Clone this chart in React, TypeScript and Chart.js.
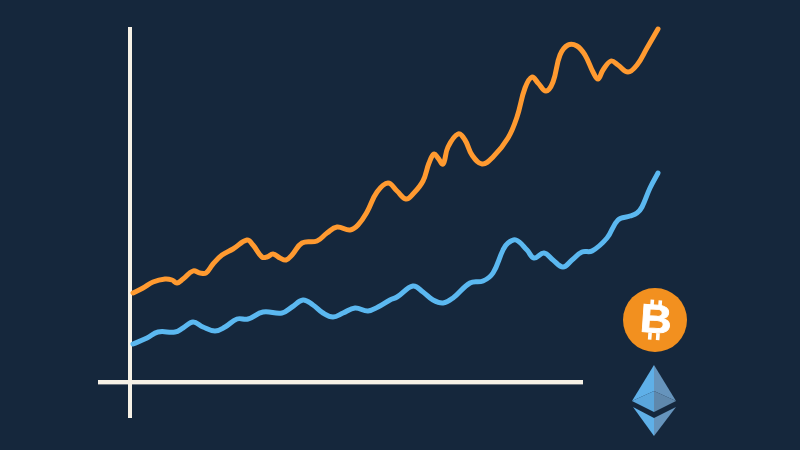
import React, { useEffect, useRef } from "react";
import { Chart, registerables } from "chart.js";

Chart.register(...registerables);

const btcX = [3, 13, 23, 35, 42, 47, 53, 63, 70, 76, 83, 92, 103, 117, 123, 132, 137, 143, 150, 156, 162, 172, 187, 197, 207, 220, 228, 237, 247, 258, 267, 276, 283, 293, 299, 304, 308, 313, 318, 328, 335, 342, 352, 363, 378, 387, 395, 402, 408, 416, 423, 430, 438, 447, 455, 463, 468, 473, 481, 488, 498, 507, 517, 528];
const btcY = [89, 94, 100, 103, 102, 99, 103, 111, 109, 109, 118, 127, 133, 142, 137, 125, 125, 128, 124, 122, 127, 139, 141, 149, 155, 152, 157, 170, 190, 199, 191, 183, 188, 201, 219, 228, 224, 218, 235, 248, 242, 227, 218, 225, 244, 265, 294, 305, 299, 291, 300, 327, 337, 336, 327, 310, 303, 312, 321, 317, 310, 317, 334, 353];
const ethX = [3, 17, 28, 45, 53, 63, 73, 85, 95, 107, 118, 133, 152, 162, 173, 183, 193, 203, 213, 225, 238, 248, 260, 267, 283, 293, 303, 313, 323, 340, 353, 363, 373, 378, 386, 397, 404, 414, 423, 433, 442, 452, 462, 477, 488, 500, 507, 512, 520, 528];
const ethY = [38, 44, 50, 50, 54, 60, 55, 51, 55, 63, 63, 70, 69, 75, 82, 77, 69, 65, 69, 74, 71, 75, 82, 85, 96, 90, 82, 79, 84, 99, 101, 109, 132, 139, 142, 132, 124, 129, 122, 115, 122, 130, 131, 144, 162, 166, 169, 175, 194, 209];
const xAxisLine = [-32, 453];
const yAxisLine = [-36, 355];

const ORANGE = "#FF9A30";
const BLUE = "#5BB8F0";
const AXIS = "#F6F1E6";
const BG = "#15273C";

const pairs = (xs: number[], ys: number[]) => xs.map((x, i) => ({ x, y: ys[i] }));

const icons = {
  id: "icons",
  afterDatasetsDraw(chart: any) {
    const c = chart.ctx;
    c.save();
    // Bitcoin badge
    c.fillStyle = "#F2901F";
    c.beginPath();
    c.arc(655, 320, 32, 0, Math.PI * 2);
    c.fill();
    c.translate(656, 320);
    c.rotate((4 * Math.PI) / 180);
    c.fillStyle = "#FFFFFF";
    c.strokeStyle = "#FFFFFF";
    for (const dx of [-5, 3]) {
      c.fillRect(dx - 1.8, -20, 3.6, 7);
      c.fillRect(dx - 1.8, 13, 3.6, 7);
    }
    c.scale(1.1, 1);
    c.font = "bold 40px 'Liberation Sans'";
    c.textAlign = "center";
    c.textBaseline = "middle";
    c.lineWidth = 0.8;
    c.fillText("B", 0, 1.5);
    c.strokeText("B", 0, 1.5);
    c.restore();

    const poly = (color: string, pts: number[][]) => {
      c.fillStyle = color;
      c.beginPath();
      pts.forEach((p, i) => (i ? c.lineTo(p[0], p[1]) : c.moveTo(p[0], p[1])));
      c.closePath();
      c.fill();
    };
    // Ethereum diamond
    poly("#5FB0E8", [[654, 365], [632, 401], [654, 391]]);
    poly("#6694BC", [[654, 365], [676, 401], [654, 391]]);
    poly("#5AA6DC", [[632, 401], [654, 391], [654, 412]]);
    poly("#5F88AC", [[676, 401], [654, 391], [654, 412]]);
    poly("#5FB0E8", [[633, 407], [654, 418], [654, 436]]);
    poly("#6694BC", [[676, 407], [654, 418], [654, 436]]);
  },
};

const lineStyle = {
  borderWidth: 5,
  borderCapStyle: "round",
  borderJoinStyle: "round",
  tension: 0.4,
  pointRadius: 0,
  clip: false,
};

export default function App() {
  const ref = useRef<HTMLCanvasElement>(null);
  useEffect(() => {
    document.body.style.margin = "0";
    const chart = new Chart(ref.current!, {
      type: "line",
      data: {
        datasets: [
          { label: "Bitcoin", data: pairs(btcX, btcY), borderColor: ORANGE, ...lineStyle },
          { label: "Ethereum", data: pairs(ethX, ethY), borderColor: BLUE, ...lineStyle },
          {
            label: "y axis",
            data: pairs([0, 0], yAxisLine),
            borderColor: AXIS,
            borderWidth: 4,
            pointRadius: 0,
            clip: false,
          },
          {
            label: "x axis",
            data: pairs(xAxisLine, [0, 0]),
            borderColor: AXIS,
            borderWidth: 4,
            pointRadius: 0,
            clip: false,
          },
          {
            label: "x axis shadow",
            data: pairs(xAxisLine, [-2.5, -2.5]),
            borderColor: "#6E7680",
            borderWidth: 1,
            pointRadius: 0,
            clip: false,
          },
        ],
      },
      options: {
        animation: false,
        responsive: false,
        devicePixelRatio: 1,
        layout: { padding: { left: 130, right: 140, top: 27, bottom: 68 } },
        plugins: { legend: { display: false }, tooltip: { enabled: false } },
        scales: {
          x: { type: "linear", min: 0, max: 530, display: false },
          y: { type: "linear", min: 0, max: 355, display: false },
        },
      },
      plugins: [icons],
    } as any);
    return () => chart.destroy();
  }, []);
  return (
    <canvas
      ref={ref}
      width={800}
      height={450}
      style={{ display: "block", width: 800, height: 450, background: BG }}
    />
  );
}
